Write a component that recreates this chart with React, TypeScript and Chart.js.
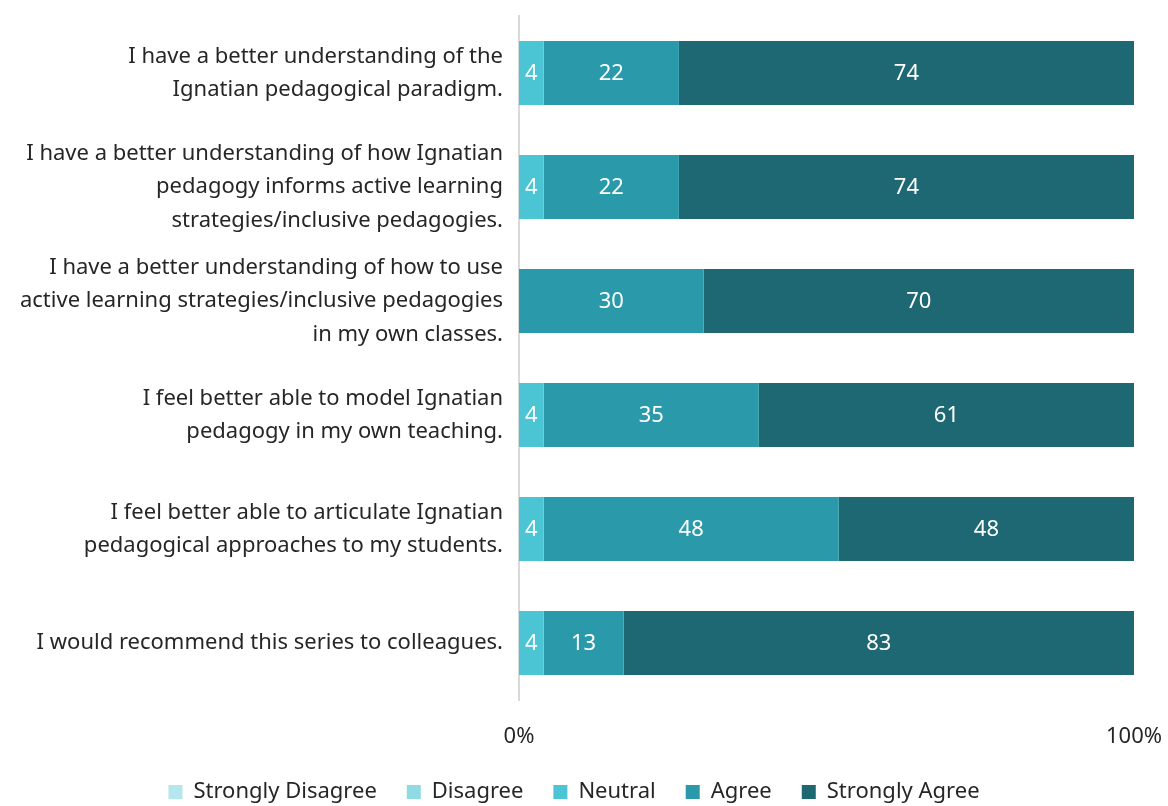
import React, { useEffect, useRef } from "react";
import { Chart, registerables } from "chart.js";

Chart.register(...registerables);

const categories: string[][] = [
  ["I have a better understanding of the", "Ignatian pedagogical paradigm."],
  ["I have a better understanding of how Ignatian", "pedagogy informs active learning", "strategies/inclusive pedagogies."],
  ["I have a better understanding of how to use", "active learning strategies/inclusive pedagogies", "in my own classes."],
  ["I feel better able to model Ignatian", "pedagogy in my own teaching."],
  ["I feel better able to articulate Ignatian", "pedagogical approaches to my students."],
  ["I would recommend this series to colleagues."],
];

const seriesNames = ["Strongly Disagree", "Disagree", "Neutral", "Agree", "Strongly Agree"];
const stronglyDisagree = [0, 0, 0, 0, 0, 0];
const disagree = [0, 0, 0, 0, 0, 0];
const neutral = [4, 4, 0, 4, 4, 4];
const agree = [22, 22, 30, 35, 48, 13];
const stronglyAgree = [74, 74, 70, 61, 48, 83];
const seriesColors = ["#b5e6ec", "#8fdbe4", "#4bc4d4", "#2a9aab", "#1d6872"];
const xTicks = [0, 100];

const FONT = "'Noto Sans', 'Open Sans', sans-serif";

const valueLabels = {
  id: "valueLabels",
  afterDatasetsDraw(chart: any) {
    const ctx = chart.ctx;
    ctx.save();
    ctx.font = `22px ${FONT}`;
    ctx.fillStyle = "#ffffff";
    ctx.textAlign = "center";
    ctx.textBaseline = "middle";
    chart.data.datasets.forEach((ds: any, di: number) => {
      const meta = chart.getDatasetMeta(di);
      meta.data.forEach((el: any, i: number) => {
        const v = ds.data[i];
        if (!v) return;
        const p = el.getCenterPoint();
        ctx.fillText(String(v), p.x, p.y + 1);
      });
    });
    ctx.restore();
  },
};

export default function App() {
  const ref = useRef<HTMLCanvasElement | null>(null);
  useEffect(() => {
    if (!ref.current) return;
    const values = [stronglyDisagree, disagree, neutral, agree, stronglyAgree];
    const chart = new Chart(ref.current, {
      type: "bar",
      data: {
        labels: categories,
        datasets: seriesNames.map((name, i) => ({
          label: name,
          data: values[i],
          backgroundColor: seriesColors[i],
          borderWidth: 0,
          barPercentage: 0.56,
          categoryPercentage: 1,
        })),
      },
      options: {
        indexAxis: "y",
        animation: false,
        responsive: false,
        maintainAspectRatio: false,
        layout: { padding: { top: 16, right: 20, left: 0, bottom: -7 } },
        scales: {
          x: {
            stacked: true,
            min: 0,
            max: 100,
            grid: { display: false },
            border: { display: false },
            afterBuildTicks: (scale: any) => {
              scale.ticks = xTicks.map((v) => ({ value: v }));
            },
            afterFit: (scale: any) => {
              scale.height = 51;
              scale.paddingRight = 34;
              scale.paddingLeft = 0;
            },
            ticks: {
              padding: 16,
              color: "#262626",
              font: { size: 22, family: FONT },
              callback: (v: any) => `${v}%`,
              maxRotation: 0,
            },
          },
          y: {
            stacked: true,
            grid: { display: false },
            border: { display: true, color: "#d9d9d9", width: 2 },
            afterFit: (scale: any) => {
              scale.width = 519;
              scale.paddingTop = 0;
              scale.paddingBottom = 0;
            },
            ticks: {
              padding: 8,
              color: "#262626",
              font: { size: 22, family: FONT, lineHeight: 1.52 },
            },
          },
        },
        plugins: {
          legend: {
            position: "bottom",
            labels: {
              boxWidth: 14,
              boxHeight: 14,
              padding: 30,
              color: "#262626",
              font: { size: 22, family: FONT },
            },
          },
          tooltip: { enabled: false },
        },
      },
      plugins: [valueLabels],
    } as any);
    return () => chart.destroy();
  }, []);
  return (
    <div style={{ position: "fixed", left: 0, top: 0, width: 1168, height: 806, background: "#fff" }}>
      <canvas ref={ref} width={1168} height={806} style={{ width: 1168, height: 806, display: "block" }} />
    </div>
  );
}
